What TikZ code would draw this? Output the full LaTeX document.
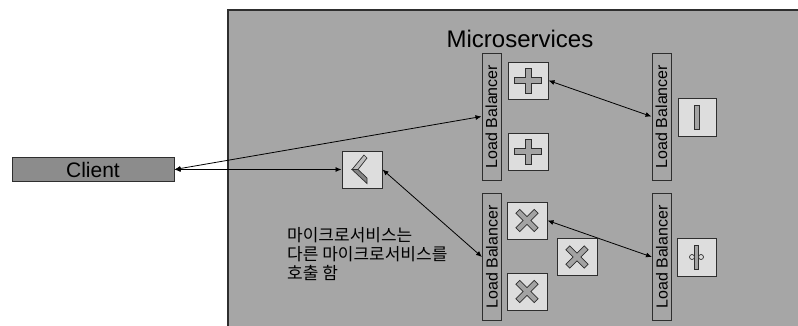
\documentclass[tikz,border=0pt]{standalone}
\usepackage{fontspec}
\setmainfont{Liberation Sans}
\newfontfamily\krfont{Noto Sans CJK KR}
\usetikzlibrary{arrows.meta,positioning}
\definecolor{panel}{HTML}{A6A6A6}
\definecolor{clientgray}{HTML}{8C8C8C}
\definecolor{boxfill}{HTML}{DDDDDD}
\definecolor{icon}{HTML}{A3A3A3}
\definecolor{icondark}{HTML}{858585}
\definecolor{iconlight}{HTML}{BDBDBD}
\definecolor{edge}{HTML}{2E2E2E}
\tikzset{
  svc/.style={draw=edge, fill=boxfill, line width=1pt, minimum width=40pt,
              minimum height=37pt, inner sep=0pt},
  lb/.style={draw=edge, fill=panel, line width=1pt, minimum width=127pt,
             minimum height=19pt, inner sep=0pt, rotate=90,
             font=\fontsize{16}{19}\selectfont},
  client/.style={draw=edge, fill=clientgray, line width=1pt, minimum width=162pt,
                 minimum height=24pt, inner sep=0pt, font=\fontsize{21}{24}\selectfont},
  iconline/.style={draw=edge, fill=icon, line width=0.7pt},
  link/.style={{Latex[length=6pt,width=5pt]}-{Latex[length=6pt,width=5pt]},
               line width=0.8pt, draw=black},
  plussign/.pic={
    \draw[iconline] (-3,-12.5) -- (3,-12.5) -- (3,-3) -- (13.5,-3)
      -- (13.5,3) -- (3,3) -- (3,12.5) -- (-3,12.5) -- (-3,3)
      -- (-13.5,3) -- (-13.5,-3) -- (-3,-3) -- cycle;
  },
  crosssign/.pic={
    \draw[iconline, rotate=45] (-2.7,-13) -- (2.7,-13) -- (2.7,-2.7) -- (13,-2.7)
      -- (13,2.7) -- (2.7,2.7) -- (2.7,13) -- (-2.7,13) -- (-2.7,2.7)
      -- (-13,2.7) -- (-13,-2.7) -- (-2.7,-2.7) -- cycle;
  },
  chevsign/.pic={
    \draw[iconline, fill=iconlight] (-10,0) -- (2,-14.5) -- (5,-11.5) -- (-4,0) -- cycle;
    \draw[iconline, fill=icondark] (-10,0) -- (-4,0) -- (5,8.5) -- (5,14) -- cycle;
  },
  barsign/.pic={
    \draw[iconline] (-2.5,-12) rectangle (2.5,12);
  },
  pinsign/.pic={
    \draw[iconline] (-2,-12) rectangle (2,12);
    \draw[iconline, fill=boxfill] (-4.5,0) circle (2.5);
    \draw[iconline, fill=boxfill] (4.5,0) circle (2.5);
  },
}

\begin{document}
\begin{tikzpicture}[x=1pt, y=-1pt]
  \useasboundingbox (0,0) rectangle (798,325);
  \clip (0,0) rectangle (798,325);
  % microservices area
  \draw[draw=edge, fill=panel, line width=1.5pt] (228,10) rectangle (820,345);
  \node[font=\fontsize{24}{28}\selectfont, anchor=base] (title) at (520,47) {Microservices};

  \node[client] (client) at (93,169.5) {Client};
  \node[svc] (chev) at (362,169.5) {};
  \pic at (chev) {chevsign};

  % upper group
  \node[lb] (lb1) at (491.5,116.5) {Load Balancer};
  \node[svc] (add1) at (528,80.5) {};
  \node[svc, below=33pt of add1] (add2) {};
  \node[lb] (lb3) at (661.5,116.5) {Load Balancer};
  \node[svc, minimum width=38pt, minimum height=38pt] (bar) at (697,117) {};
  \pic at (add1) {plussign};
  \pic at (add2) {plussign};
  \pic at (bar) {barsign};

  % lower group
  \node[lb] (lb2) at (492,257) {Load Balancer};
  \node[svc] (mul1) at (527,220.5) {};
  \node[svc] (mul2) at (577,257) {};
  \node[svc] (mul3) at (527,291.5) {};
  \node[lb] (lb4) at (662,257) {Load Balancer};
  \node[svc, minimum width=39pt, minimum height=38pt] (pin) at (696.5,257) {};
  \pic at (mul1) {crosssign};
  \pic at (mul2) {crosssign};
  \pic at (mul3) {crosssign};
  \pic at (pin) {pinsign};

  \node[font=\krfont\fontsize{17}{19}\selectfont, align=left, anchor=north west,
        inner sep=0pt] (note) at (287,227)
    {마이크로서비스는\\다른 마이크로서비스를\\호출 함};

  \draw[link] (client.east) -- (lb1.north);
  \draw[link] (client.east) -- (chev.west);
  \draw[link] (chev.east) -- (lb2.north);
  \draw[link] (add1.east) -- (lb3.north);
  \draw[link] (mul1.east) -- (lb4.north);
\end{tikzpicture}
\end{document}
